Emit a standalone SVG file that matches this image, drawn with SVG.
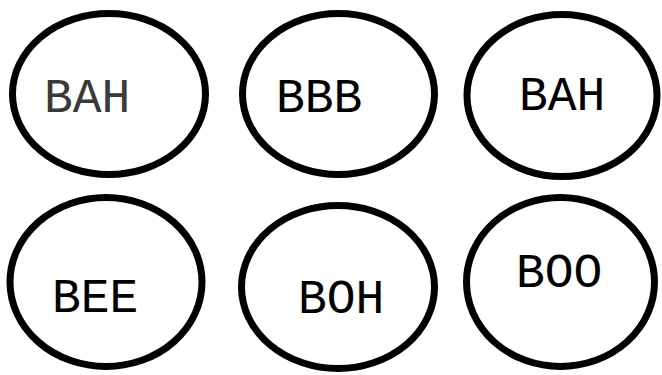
<svg xmlns="http://www.w3.org/2000/svg" width="662" height="375" viewBox="0 0 662 375">
<style>
.n{fill:#fff;stroke:#000;stroke-width:7}
.t{font-family:"Courier New","Nimbus Mono PS","FreeMono","Liberation Mono",monospace;font-size:48px;fill:#000}
.g{fill:#3a3a3a}
</style>
<rect width="662" height="375" fill="#fff"/>
<g id="connectors"></g>
<g id="n1"><ellipse class="n" cx="109" cy="94" rx="96.5" ry="80.5"/><text class="t g" x="44" y="112">BAH</text></g>
<g id="n2"><ellipse class="n" cx="338.5" cy="94" rx="96" ry="80.5"/><text class="t" x="276" y="112">BBB</text></g>
<g id="n3"><ellipse class="n" cx="562" cy="95.5" rx="95" ry="81"/><text class="t" x="519" y="110">BAH</text></g>
<g id="n4"><ellipse class="n" cx="106" cy="282" rx="96" ry="84.5"/><text class="t" x="52" y="312">BEE</text></g>
<g id="n5"><ellipse class="n" cx="338" cy="287" rx="96.5" ry="81.5"/><text class="t" x="298" y="313">BOH</text></g>
<g id="n6"><ellipse class="n" cx="560.5" cy="282" rx="94" ry="84.5"/><text class="t" x="516" y="287">BOO</text></g>
</svg>
